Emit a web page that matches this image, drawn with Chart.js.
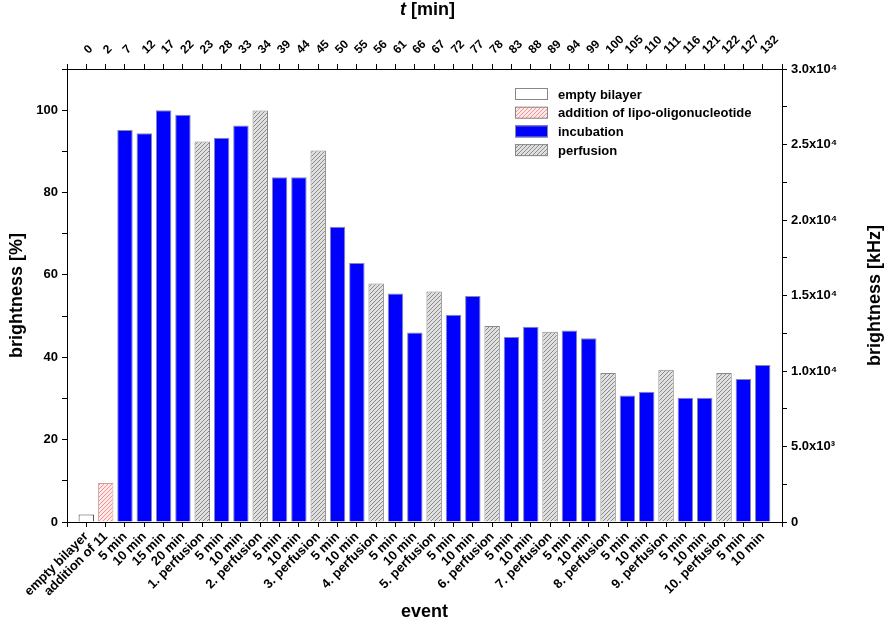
<!DOCTYPE html>
<html>
<head>
<meta charset="utf-8">
<script src="https://cdn.jsdelivr.net/npm/chart.js@4.4.1/dist/chart.umd.min.js"></script>
<style>
    html, body { margin: 0; padding: 0; background: #fff; }
    #wrap { width: 887px; height: 627px; }
</style>
</head>
<body>
<div id="wrap"><canvas id="myChart"></canvas></div>
<script>
const events = ['empty bilayer', 'addition of 11', '5 min', '10 min', '15 min', '20 min',
    '1. perfusion', '5 min', '10 min', '2. perfusion', '5 min', '10 min',
    '3. perfusion', '5 min', '10 min', '4. perfusion', '5 min', '10 min',
    '5. perfusion', '5 min', '10 min', '6. perfusion', '5 min', '10 min',
    '7. perfusion', '5 min', '10 min', '8. perfusion', '5 min', '10 min',
    '9. perfusion', '5 min', '10 min', '10. perfusion', '5 min', '10 min'];

const tMin = [0, 2, 7, 12, 17, 22, 23, 28, 33, 34, 39, 44, 45, 50, 55, 56, 61, 66,
    67, 72, 77, 78, 83, 88, 89, 94, 99, 100, 105, 110, 111, 116, 121, 122, 127, 132];

const brightness = [1.8, 9.5, 95.2, 94.4, 100, 98.9, 92.4, 93.3, 96.3, 99.9, 83.7, 83.7,
    90.2, 71.7, 62.9, 57.9, 55.5, 46.0, 56.0, 50.3, 54.9, 47.6, 44.9, 47.4,
    46.2, 46.5, 44.6, 36.2, 30.7, 31.6, 37.0, 30.2, 30.2, 36.2, 34.7, 38.1];

const legendNames = ['empty bilayer', 'addition of lipo-oligonucleotide', 'incubation', 'perfusion'];

// which legend group each event belongs to
function eventGroup(i) {
    if (i === 0) return 0;
    if (i === 1) return 1;
    return events[i].indexOf('perfusion') >= 0 ? 3 : 2;
}

function hatch(bg, line) {
    const c = document.createElement('canvas');
    c.width = 4;
    c.height = 4;
    const g = c.getContext('2d');
    g.fillStyle = bg;
    g.fillRect(0, 0, 4, 4);
    g.strokeStyle = line;
    g.lineWidth = 0.9;
    g.beginPath();
    g.moveTo(0, 4); g.lineTo(4, 0);
    g.moveTo(-1, 1); g.lineTo(1, -1);
    g.moveTo(3, 5); g.lineTo(5, 3);
    g.stroke();
    return g.createPattern(c, 'repeat');
}

const fills = ['#ffffff', hatch('#ffe8e8', '#f08a8a'), '#0000ff', hatch('#e0e0e0', '#808080')];
const borders = ['#444444', '#c8a0a0', '#8888aa', '#888888'];

const datasets = legendNames.map((name, k) => ({
    label: name,
    data: brightness.map((v, i) => ({ x: i, y: v })).filter((p, i) => eventGroup(i) === k),
    backgroundColor: fills[k],
    borderColor: borders[k],
    borderWidth: 1,
    borderSkipped: 'bottom',
    barPercentage: 0.8,
    categoryPercentage: 1,
    xAxisID: 'x',
    yAxisID: 'y'
}));

const fontBold = (size) => ({ family: 'Liberation Sans, Arial, sans-serif', size: size, weight: 'bold' });

const sup = { 3: '\u00b3', 4: '\u2074' };
function kHzLabel(v) {
    if (v === 0) return '0';
    if (v < 10000) return (v / 1000).toFixed(1) + 'x10' + sup[3];
    return (v / 10000).toFixed(1) + 'x10' + sup[4];
}

const tickGrid = {
    display: true,
    drawOnChartArea: false,
    drawTicks: true,
    tickLength: 5,
    color: '#000',
    offset: false
};
const blackBorder = { display: true, color: '#000', width: 1 };

const titles = {
    id: 'titles',
    afterDraw: (chart) => {
        const { ctx, chartArea } = chart;
        const cx = (chartArea.left + chartArea.right) / 2;
        const cy = (chartArea.top + chartArea.bottom) / 2;
        ctx.save();
        ctx.fillStyle = '#000';
        ctx.textAlign = 'center';
        ctx.textBaseline = 'middle';
        ctx.font = 'bold 18px Liberation Sans, Arial, sans-serif';

        ctx.fillText('event', cx, 612);

        // top title with italic t
        const rest = ' [min]';
        ctx.font = 'italic bold 18px Liberation Sans, Arial, sans-serif';
        const wt = ctx.measureText('t').width;
        ctx.font = 'bold 18px Liberation Sans, Arial, sans-serif';
        const wr = ctx.measureText(rest).width;
        let x0 = cx + 3 - (wt + wr) / 2;
        ctx.textAlign = 'left';
        ctx.font = 'italic bold 18px Liberation Sans, Arial, sans-serif';
        ctx.fillText('t', x0, 10);
        ctx.font = 'bold 18px Liberation Sans, Arial, sans-serif';
        ctx.fillText(rest, x0 + wt, 10);

        ctx.textAlign = 'center';
        ctx.translate(17, cy);
        ctx.rotate(-Math.PI / 2);
        ctx.fillText('brightness [%]', 0, 0);
        ctx.restore();

        ctx.save();
        ctx.fillStyle = '#000';
        ctx.textAlign = 'center';
        ctx.textBaseline = 'middle';
        ctx.font = 'bold 18px Liberation Sans, Arial, sans-serif';
        ctx.translate(875, cy);
        ctx.rotate(-Math.PI / 2);
        ctx.fillText('brightness [kHz]', 0, 0);
        ctx.restore();
    }
};

const boxLegend = {
    id: 'boxLegend',
    afterDraw: (chart) => {
        const { ctx, chartArea } = chart;
        const left = chartArea.right - 267;
        const top = chartArea.top + 25;
        ctx.save();
        ctx.font = 'bold 13px Liberation Sans, Arial, sans-serif';
        ctx.textBaseline = 'middle';
        ctx.textAlign = 'left';
        chart.data.datasets.forEach((ds, i) => {
            const y = top + i * 18.7;
            ctx.fillStyle = ds.backgroundColor;
            ctx.fillRect(left, y - 6, 33, 12);
            ctx.strokeStyle = i === 2 ? '#8888aa' : '#888';
            ctx.lineWidth = 1;
            ctx.strokeRect(left + 0.5, y - 5.5, 32, 11);
            ctx.fillStyle = '#000';
            ctx.fillText(ds.label, left + 43, y + 1);
        });
        ctx.restore();
    }
};

Chart.defaults.font.family = 'Liberation Sans, Arial, sans-serif';
Chart.defaults.color = '#000';

const ctx = document.getElementById('myChart').getContext('2d');
const myChart = new Chart(ctx, {
    type: 'bar',
    data: { datasets },
    options: {
        responsive: true,
        maintainAspectRatio: false,
        animation: false,
        layout: { padding: 0 },
        plugins: {
            legend: { display: false },
            tooltip: { enabled: false }
        },
        scales: {
            x: {
                type: 'linear',
                position: 'bottom',
                stacked: true,
                offset: false,
                min: -1,
                max: 36,
                afterFit: (s) => { s.height = 105; },
                grid: tickGrid,
                border: blackBorder,
                ticks: {
                    stepSize: 1,
                    autoSkip: false,
                    minRotation: 45,
                    maxRotation: 45,
                    padding: 2,
                    font: fontBold(13),
                    callback: (v) => events[v] !== undefined ? events[v] : ''
                }
            },
            x2: {
                type: 'linear',
                position: 'top',
                offset: false,
                min: -1,
                max: 36,
                afterFit: (s) => { s.height = 69; },
                grid: tickGrid,
                border: blackBorder,
                ticks: {
                    stepSize: 1,
                    autoSkip: false,
                    minRotation: 45,
                    maxRotation: 45,
                    padding: 7,
                    labelOffset: 10,
                    font: fontBold(12),
                    callback: (v) => tMin[v] !== undefined ? String(tMin[v]) : ''
                }
            },
            y: {
                type: 'linear',
                position: 'left',
                stacked: true,
                min: 0,
                max: 110,
                afterFit: (s) => { s.width = 67; },
                grid: tickGrid,
                border: blackBorder,
                ticks: {
                    stepSize: 10,
                    padding: 4,
                    font: fontBold(13),
                    callback: (v) => v % 20 === 0 ? String(v) : ''
                }
            },
            y2: {
                type: 'linear',
                position: 'right',
                min: 0,
                max: 30000,
                afterFit: (s) => { s.width = 105; },
                grid: tickGrid,
                border: blackBorder,
                ticks: {
                    stepSize: 2500,
                    padding: 4,
                    font: fontBold(13),
                    callback: (v) => v % 5000 === 0 ? kHzLabel(v) : ''
                }
            }
        }
    },
    plugins: [titles, boxLegend]
});
</script>
</body>
</html>
